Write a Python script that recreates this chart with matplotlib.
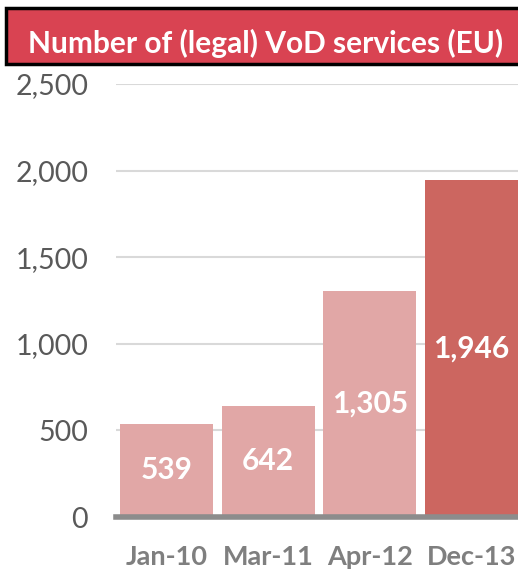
import matplotlib
matplotlib.use("Agg")
import matplotlib.pyplot as plt
from matplotlib.patches import Rectangle
from matplotlib.ticker import FuncFormatter

categories = ["Jan-10", "Mar-11", "Apr-12", "Dec-13"]
values = [539, 642, 1305, 1946]
bar_colors = ["#E1A7A6", "#E1A7A6", "#E1A7A6", "#CC6660"]
title = "Number of (legal) VoD services (EU)"

W, H = 518, 574
fig = plt.figure(figsize=(W / 100, H / 100), dpi=100)
fig.patch.set_facecolor("white")
font = ["Lato", "DejaVu Sans"]

ax = fig.add_axes([116 / W, 1 - 517 / H, (W - 116) / W, (517 - 84) / H])
x = list(range(len(categories)))
bars = ax.bar(x, values, width=0.915, color=bar_colors, zorder=3)
ax.set_xlim(-0.5, 3.46)
ax.set_ylim(0, 2500)
ax.set_yticks([0, 500, 1000, 1500, 2000, 2500])
ax.yaxis.set_major_formatter(FuncFormatter(lambda v, p: f"{int(v):,}"))
ax.grid(axis="y", color="#D9D9D9", linewidth=1.5, zorder=0)
for s in ["top", "right", "left"]:
    ax.spines[s].set_visible(False)
ax.spines["bottom"].set_color("#8C8C8C")
ax.spines["bottom"].set_linewidth(4)
ax.spines["bottom"].set_zorder(4)
ax.tick_params(axis="both", length=0)
ax.tick_params(axis="y", pad=20, labelcolor="#595959", labelsize=20.5)
ax.set_xticks(x)
ax.set_xticklabels(categories, fontsize=19.5, fontweight="bold", color="#7F7F7F", family=font)
ax.tick_params(axis="x", pad=20)
for lab in ax.get_yticklabels():
    lab.set_family(font)

for b, v in zip(bars, values):
    ax.text(b.get_x() + b.get_width() / 2, v / 2, f"{v:,}", ha="center", va="center",
            color="white", fontsize=21.5, fontweight="bold", family=font, zorder=5)

fig.patches.append(Rectangle((6 / W, 1 - 64 / H), 1, 56 / H, transform=fig.transFigure,
                             facecolor="#D94352", edgecolor="black", linewidth=2.5, clip_on=False))
fig.text(266 / W, 1 - 43 / H, title, ha="center", va="center", color="white",
         fontsize=21.5, fontweight="bold", family=font)

fig.savefig("out.png", dpi=100)
